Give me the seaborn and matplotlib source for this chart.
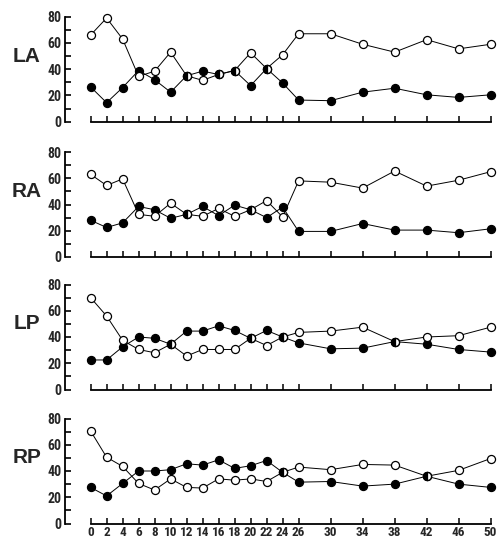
import numpy as np
import pandas as pd
import matplotlib
matplotlib.use("Agg")
import matplotlib.pyplot as plt
from matplotlib import font_manager
import seaborn as sns

sns.set_theme(style="white")

available = {f.name for f in font_manager.fontManager.ttflist}
tick_font, tick_size = "Roboto", 9
for cand in ["Liberation Sans Narrow", "DejaVu Sans Condensed", "Roboto Condensed", "Open Sans Condensed"]:
    if cand in available:
        tick_font, tick_size = cand, 10
        break
plt.rcParams['font.family'] = [tick_font, 'DejaVu Sans']

weeks = [0, 2, 4, 6, 8, 10, 12, 14, 16, 18, 20, 22, 24, 26, 30, 34, 38, 42, 46, 50]
panels = ["LA", "RA", "LP", "RP"]

la_open   = [66, 79, 63, 34.5, 38.5, 53, 35, 31.5, 36, 39, 52.5, 40.5, 51, 67, 67, 59, 53, 62.5, 55.5, 59]
la_filled = [26.5, 14.5, 26, 39, 32, 22.5, 35, 38.5, 36, 39, 27.5, 40.5, 29.5, 16.5, 16, 22.5, 25.5, 20.5, 18.5, 20.5]

ra_open   = [63, 54.5, 59.5, 32.5, 31, 41, 32.5, 31, 37, 31, 36, 43, 30.5, 58, 57, 52.5, 65.5, 54, 58.5, 65]
ra_filled = [28, 22.5, 26, 38.5, 36, 29.5, 32.5, 38.5, 31.5, 39.5, 36, 30, 38, 19.5, 19.5, 25.5, 20.5, 20.5, 18.5, 21.5]

lp_open   = [70, 56, 37.5, 30.5, 28, 34.5, 25.5, 30.5, 30.5, 30.5, 39, 33.5, 40, 43.5, 44.5, 47.5, 36.5, 40, 41, 47.5]
lp_filled = [22.5, 22.5, 32.5, 40, 39, 34.5, 44.5, 44.5, 48.5, 45, 39, 45, 40, 35.5, 31, 31.5, 36.5, 34.5, 30.5, 28.5]

rp_open   = [70.5, 50.5, 43.5, 30.5, 25.5, 34, 27.5, 27, 34, 33, 34, 32, 39, 43, 41, 45, 44.5, 36, 40.5, 49.5]
rp_filled = [27.5, 21, 30.5, 40, 40, 41, 45.5, 44.5, 48.5, 42, 44, 48, 39, 31.5, 32, 28.5, 30, 36, 30, 27.5]

open_vals = [la_open, ra_open, lp_open, rp_open]
filled_vals = [la_filled, ra_filled, lp_filled, rp_filled]

x_ticks = weeks
y_major = [0, 20, 40, 60, 80]
y_minor = [10, 30, 50, 70]

W, H = 499, 541
fig = plt.figure(figsize=(W / 100, H / 100), dpi=100)

left_px = 65
xmin, xmax = -3.2, 50.6
width_px = (xmax - xmin) * 8.0
tops = [16.7, 152, 284.5, 418.5]
panel_h = 105

ms = 5.8
mew = 0.9
lw = 0.7

for i, name in enumerate(panels):
    top = tops[i]
    ax = fig.add_axes([left_px / W, 1 - (top + panel_h) / H, width_px / W, panel_h / H])
    df = pd.DataFrame({"week": weeks, "open": open_vals[i], "filled": filled_vals[i]})

    sns.lineplot(data=df, x="week", y="filled", ax=ax, color="black", lw=lw,
                 marker="o", markersize=ms, markerfacecolor="black",
                 markeredgecolor="black", markeredgewidth=mew, clip_on=False, zorder=3)
    sns.lineplot(data=df, x="week", y="open", ax=ax, color="black", lw=lw,
                 marker="o", markersize=ms, markerfacecolor="white",
                 markeredgecolor="black", markeredgewidth=mew, clip_on=False, zorder=4)

    same = np.isclose(df["open"], df["filled"])
    ax.plot(df["week"][same], df["open"][same], linestyle="none", marker="o",
            markersize=ms, fillstyle="left", markerfacecolor="black",
            markerfacecoloralt="white", markeredgecolor="black",
            markeredgewidth=mew, clip_on=False, zorder=5)

    ax.set_xlim(xmin, xmax)
    ax.set_ylim(0, 80)
    ax.set_xlabel("")
    ax.set_ylabel("")

    for s in ["top", "right"]:
        ax.spines[s].set_visible(False)
    ax.spines["left"].set_bounds(0, 80)
    ax.spines["bottom"].set_bounds(0, 50)
    for s in ["left", "bottom"]:
        ax.spines[s].set_linewidth(1.3)
        ax.spines[s].set_color("black")

    ax.set_yticks(y_major)
    ax.set_yticks(y_minor, minor=True)
    ax.set_xticks(x_ticks)
    ax.tick_params(axis="y", which="both", direction="in", length=4.5, width=1.2,
                   color="black", left=True, pad=2.5, labelsize=tick_size)
    ax.tick_params(axis="x", which="both", direction="in", length=4, width=1.1,
                   color="black", bottom=True, pad=1.5, labelsize=tick_size * 0.95)
    for lab in ax.get_yticklabels():
        lab.set_fontweight("bold")
    if i < 3:
        ax.set_xticklabels([])
    else:
        ax.set_xticklabels([str(w) for w in weeks])
        for lab in ax.get_xticklabels():
            lab.set_fontweight("bold")

    ax.text(-38 / width_px, 50, name, transform=ax.get_yaxis_transform(),
            ha="center", va="center", fontsize=15, fontweight="bold",
            family=["Liberation Sans", "DejaVu Sans"])

fig.savefig("out.png", dpi=100, facecolor="white")
